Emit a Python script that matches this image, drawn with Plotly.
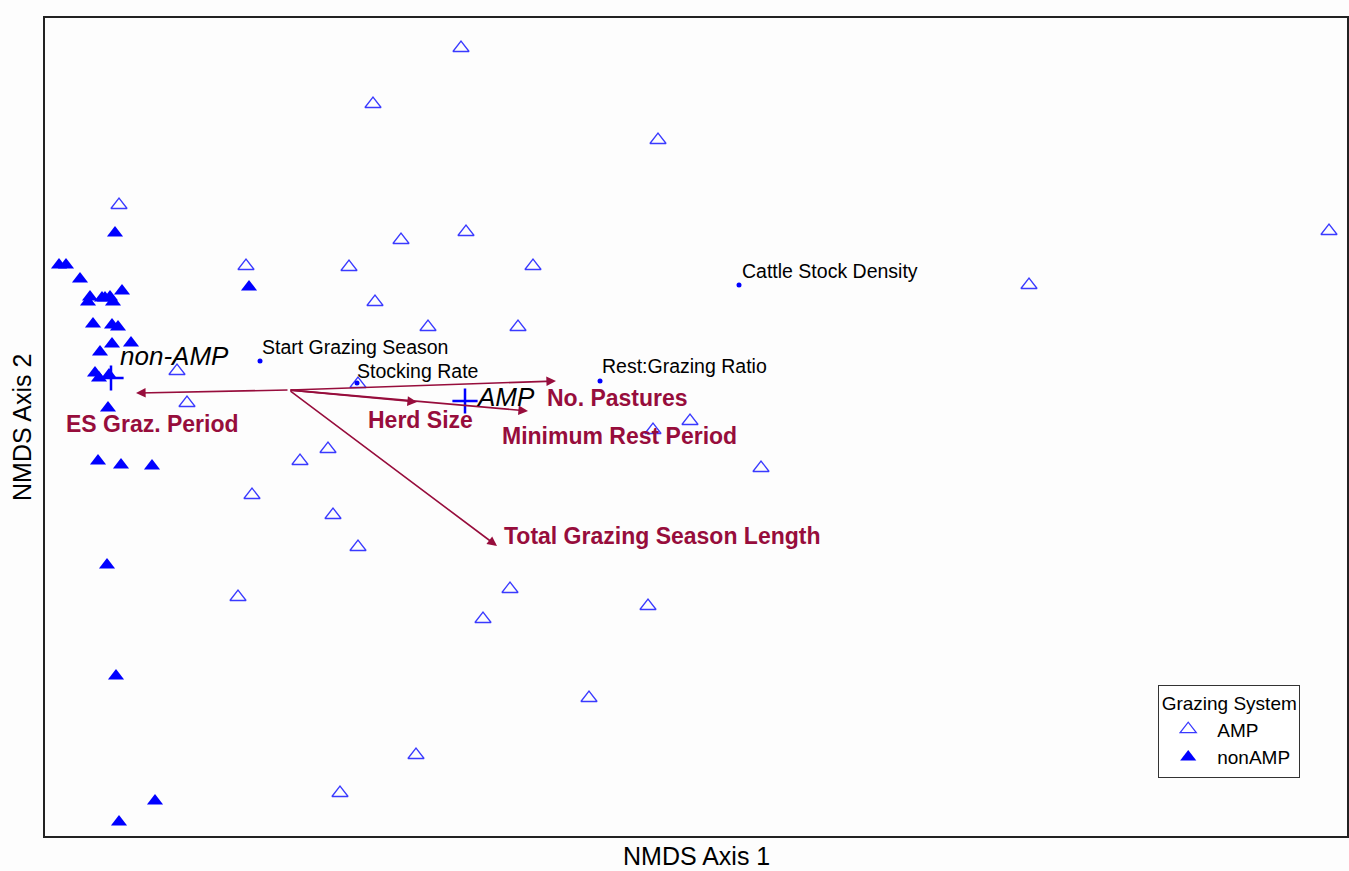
import plotly.graph_objects as go

# Site scores (plot units, y increases downward as drawn)
amp_x = [461, 373, 658, 119, 1329, 466, 401, 246, 349, 533, 1029, 375, 428, 518, 177, 358, 187,
         653, 690, 328, 300, 761, 252, 333, 358, 238, 510, 483, 648, 589, 416, 340]
amp_y = [48, 104, 140, 205, 231, 232, 240, 266, 267, 266, 285, 302, 327, 327, 371, 384, 403,
         430, 421, 449, 461, 468, 495, 515, 547, 597, 589, 619, 606, 698, 755, 793]

non_x = [115, 59, 66, 80, 90, 88, 102, 105, 110, 113, 122, 93, 112, 118, 131, 112, 100,
         95, 99, 109, 108, 249, 98, 121, 152, 107, 116, 155, 119]
non_y = [233, 265, 265, 279, 297, 302, 298, 298, 297, 302, 291, 324, 325, 327, 343, 344, 352,
         373, 378, 375, 408, 287, 461, 465, 466, 565, 676, 801, 822]

# Group centroids
cent_names = ["non-AMP", "AMP"]
cent_x = [111, 465]
cent_y = [378, 401]

# Passive environmental variables
env_names = ["Start Grazing Season", "Stocking Rate", "Rest:Grazing Ratio", "Cattle Stock Density"]
env_x = [260, 357, 600, 739]
env_y = [361, 383, 381, 285]

# Fitted vectors
vec_origin = (289, 390)
vec_names = ["ES Graz. Period", "No. Pastures", "Herd Size", "Minimum Rest Period",
             "Total Grazing Season Length"]
vec_x = [136, 556, 417, 528, 497]
vec_y = [393, 381, 402, 411, 546]
vec_lab_x = [152, 617, 420, 619, 662]
vec_lab_y = [424, 398, 420, 436, 536]

RED = "#970d3c"
BLUE = "#0000ff"

fig = go.Figure()
fig.add_trace(go.Scatter(x=amp_x, y=amp_y, mode="markers", name="AMP",
                         marker=dict(symbol="triangle-up-open", size=14, color="#3a3aff",
                                     line=dict(width=1.3, color="#3a3aff"))))
fig.add_trace(go.Scatter(x=non_x, y=non_y, mode="markers", name="nonAMP",
                         marker=dict(symbol="triangle-up", size=14, color=BLUE,
                                     line=dict(width=0))))
fig.add_trace(go.Scatter(x=env_x, y=env_y, mode="markers", showlegend=False,
                         marker=dict(symbol="circle", size=5, color=BLUE)))
fig.add_trace(go.Scatter(x=cent_x, y=cent_y, mode="markers", showlegend=False,
                         marker=dict(symbol="cross-thin", size=18,
                                     line=dict(width=2.5, color=BLUE))))

annotations = []
for nx, vx, vy in zip(vec_names, vec_x, vec_y):
    annotations.append(dict(x=vx, y=vy, ax=vec_origin[0], ay=vec_origin[1], xref="x", yref="y",
                            axref="x", ayref="y", showarrow=True, arrowhead=2, arrowsize=1.2,
                            arrowwidth=1.6, arrowcolor=RED, text=""))
for name, lx, ly in zip(vec_names, vec_lab_x, vec_lab_y):
    annotations.append(dict(x=lx, y=ly, xref="x", yref="y", text="<b>" + name + "</b>",
                            showarrow=False, font=dict(family="Arial", size=23, color=RED),
                            xanchor="center", yanchor="middle"))
env_lab_dx = [0, -2, 0, 1]
env_lab_dy = [-14, -12, -15, -14]
for name, ex, ey, dx, dy in zip(env_names, env_x, env_y, env_lab_dx, env_lab_dy):
    annotations.append(dict(x=ex + dx, y=ey + dy, xref="x", yref="y", text=name, showarrow=False,
                            font=dict(family="Arial", size=19.5, color="black"),
                            xanchor="left", yanchor="middle"))
cent_lab_dx = [7, 9]
cent_lab_dy = [-22, -4]
for name, cx, cy, dx, dy in zip(cent_names, cent_x, cent_y, cent_lab_dx, cent_lab_dy):
    annotations.append(dict(x=cx + dx, y=cy + dy, xref="x", yref="y", text="<i>" + name + "</i>",
                            showarrow=False, font=dict(family="Arial", size=26, color="black"),
                            xanchor="left", yanchor="middle"))

# Axis titles
annotations.append(dict(x=0.5, y=-0.025, xref="paper", yref="paper", text="NMDS Axis 1",
                        showarrow=False, font=dict(family="Arial", size=25, color="black"),
                        xanchor="center", yanchor="middle"))
annotations.append(dict(x=-0.0177, y=0.5, xref="paper", yref="paper", text="NMDS Axis 2",
                        textangle=-90, showarrow=False,
                        font=dict(family="Arial", size=25, color="black"),
                        xanchor="center", yanchor="middle"))

fig.update_layout(
    width=1349, height=871,
    margin=dict(l=45, r=2, t=18, b=35, autoexpand=False),
    paper_bgcolor="#fdfdfd", plot_bgcolor="#fdfdfd",
    font=dict(family="Arial", color="black"),
    xaxis=dict(range=[45, 1347], showgrid=False, zeroline=False, showticklabels=False,
               ticks="", showline=True, linecolor="#222", linewidth=2, mirror=True,
               automargin=False),
    yaxis=dict(range=[836, 18], showgrid=False, zeroline=False, showticklabels=False,
               ticks="", showline=True, linecolor="#222", linewidth=2, mirror=True,
               automargin=False),
    legend=dict(x=0.855, y=0.185, xanchor="left", yanchor="top",
                bordercolor="#333", borderwidth=1, bgcolor="white",
                font=dict(size=19, family="Arial"),
                title=dict(text="Grazing System", side="top center", font=dict(size=19)),
                itemwidth=48, tracegroupgap=0),
    annotations=annotations,
    showlegend=True,
)

fig.write_html("out.html", config={"displayModeBar": False},
               post_script="document.body.style.margin='0';document.body.style.overflow='hidden';")
